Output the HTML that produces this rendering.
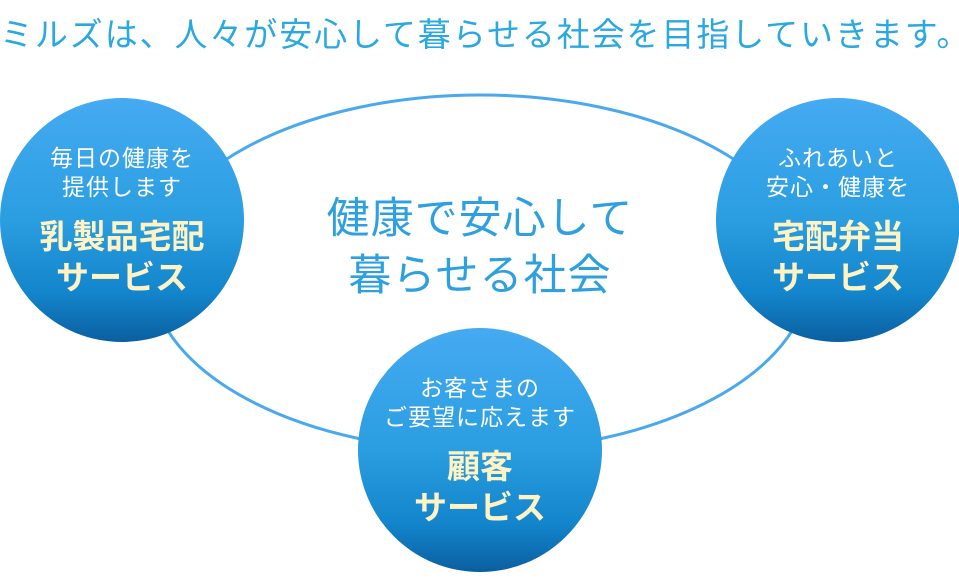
<!DOCTYPE html>
<html><head><meta charset="utf-8"><style>
body{margin:0;width:959px;height:580px;background:#fff;overflow:hidden;position:relative;font-family:"Liberation Sans","Noto Sans CJK JP",sans-serif}
.t{position:absolute;left:0;top:8px;font-size:33px;color:#2aa8e0;white-space:nowrap;letter-spacing:1.9px}
.c{position:absolute;width:244px;height:244px;border-radius:50%;background:linear-gradient(#45aaf2,#2a9ee0 50%,#1385cc 80%,#0a5fa0);text-align:center;color:#fff}
.s{position:absolute;left:-20px;right:-20px;font-size:23px;line-height:29px;letter-spacing:1px}
.b{position:absolute;left:-20px;right:-20px;font-size:33px;line-height:41px;font-weight:bold;color:#fff3c4}
.m{position:absolute;left:230px;width:500px;text-align:center;font-size:43px;color:#2ea0e0;letter-spacing:1px}
</style></head><body>
<div class="t">ミルズは、人々が安心して暮らせる社会を目指していきます。</div>
<svg width="959" height="580" style="position:absolute;left:0;top:0"><ellipse cx="480" cy="273" rx="330" ry="178" fill="none" stroke="#4aa8ef" stroke-width="3"/></svg>
<div class="m" style="top:184px">健康で安心して</div>
<div class="m" style="top:241px">暮らせる社会</div>
<div class="c" style="left:0;top:98px"><div class="s" style="top:46px">毎日の健康を<br>提供します</div><div class="b" style="top:118px">乳製品宅配<br>サービス</div></div>
<div class="c" style="left:716px;top:98px"><div class="s" style="top:46px">ふれあいと<br>安心・健康を</div><div class="b" style="top:118px">宅配弁当<br>サービス</div></div>
<div class="c" style="left:358px;top:328px"><div class="s" style="top:46px">お客さまの<br>ご要望に応えます</div><div class="b" style="top:118px">顧客<br>サービス</div></div>
</body></html>
